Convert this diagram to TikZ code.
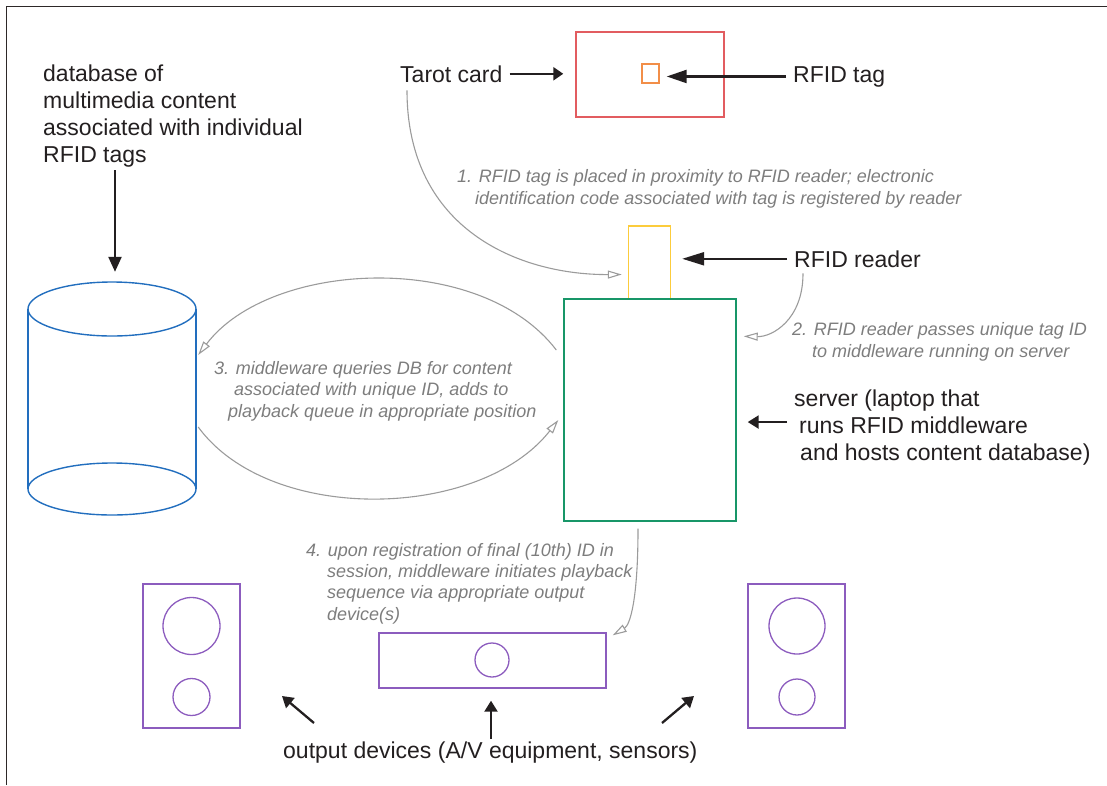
\documentclass[tikz,border=0pt]{standalone}
\usepackage{fontspec}
\setmainfont{Liberation Sans}
\usetikzlibrary{arrows.meta,calc}
\definecolor{ink}{RGB}{35,31,32}
\definecolor{framec}{RGB}{45,40,40}
\definecolor{cardred}{RGB}{226,92,96}
\definecolor{tagorange}{RGB}{242,142,72}
\definecolor{readeryellow}{RGB}{252,204,60}
\definecolor{servergreen}{RGB}{24,150,104}
\definecolor{dbblue}{RGB}{34,110,190}
\definecolor{devpurple}{RGB}{140,92,190}
\definecolor{linegrey}{RGB}{155,155,155}
\definecolor{notegrey}{RGB}{125,125,125}
\begin{document}
\begin{tikzpicture}[x=1pt,y=-1pt,
  lbl/.style={font=\fontsize{23}{27}\selectfont, text=ink, inner sep=0pt, anchor=base west, align=left},
  note/.style={font=\fontsize{18}{21.3}\selectfont\itshape, text=notegrey, inner sep=0pt, anchor=base west, align=left},
  shapebox/.style={draw=#1, line width=1.4pt, inner sep=0pt, rectangle},
  disc/.style={draw=devpurple, line width=1.3pt, circle, inner sep=0pt},
  bk/.style={draw=ink, line width=2.3pt, -{Triangle[length=#1,width=13pt]}},
  bk/.default=12pt,
  gr/.style={draw=linegrey, line width=1.1pt, -{Triangle[open,length=14pt,width=8pt]}}]
\useasboundingbox (0,0) rectangle (1107,785);
% frame
\draw[framec, line width=1.8pt] (6.5,785) -- (6.5,6.5) -- (1107,6.5);

% card, tag, reader, server
\node[shapebox=cardred, minimum width=148pt, minimum height=85pt] (card) at (650,74.5) {};
\node[shapebox=tagorange, minimum width=17pt, minimum height=19pt] (tag) at (650.5,73.5) {};
\node[shapebox=readeryellow, minimum width=42pt, minimum height=73pt] (reader) at (649.5,262.5) {};
\node[shapebox=servergreen, minimum width=172pt, minimum height=222pt] (server) at (650,410) {};

% database cylinder
\draw[dbblue, line width=1.4pt] (112,309) ellipse [x radius=84, y radius=27];
\draw[dbblue, line width=1.4pt] (28,309) -- (28,489) (196,309) -- (196,489);
\draw[dbblue, line width=1.4pt] (112,489) ellipse [x radius=84, y radius=26];
\node[inner sep=0pt, minimum width=168pt, minimum height=234pt] (db) at (112,399) {};

% output devices
\node[shapebox=devpurple, minimum width=97pt, minimum height=144pt] (spkL) at (191.5,656) {};
\node[disc, minimum size=57pt] (spkLbig) at (191.5,626) {};
\node[disc, minimum size=37pt] (spkLsmall) at (191.5,697) {};
\node[shapebox=devpurple, minimum width=227pt, minimum height=55pt] (mid) at (492.5,660.5) {};
\node[disc, minimum size=34pt] (midc) at (492,660) {};
\node[shapebox=devpurple, minimum width=97pt, minimum height=144pt] (spkR) at (796.5,656) {};
\node[disc, minimum size=56pt] (spkRbig) at (797,626) {};
\node[disc, minimum size=36pt] (spkRsmall) at (797,697) {};

% labels (multi-line nodes: base = last line's baseline)
\node[lbl] (tarot) at (400,82) {Tarot card};
\node[lbl] (taglbl) at (793,82) {RFID tag};
\node[lbl] (rdrlbl) at (794,267) {RFID reader};
\node[lbl] (srvlbl) at (794,460) {server (laptop that\\\hspace*{5pt}runs RFID middleware\\\hspace*{6pt}and hosts content database)};
\node[lbl] (dblbl) at (43,162) {database of\\multimedia content\\associated with individual\\RFID tags};
\node[lbl] (outlbl) at (283,758) {output devices (A/V equipment, sensors)};

% notes
\node[note] (n1) at (457,204) {1. RFID tag is placed in proximity to RFID reader; electronic\\\hspace*{18pt}identification code associated with tag is registered by reader};
\node[note] (n2) at (792,357) {2. RFID reader passes unique tag ID\\\hspace*{20pt}to middleware running on server};
\node[note] (n3) at (214,417) {3. middleware queries DB for content\\\hspace*{20pt}associated with unique ID, adds to\\\hspace*{14pt}playback queue in appropriate position};
\node[note] (n4) at (306,620) {4. upon registration of final (10th) ID in\\\hspace*{21pt}session, middleware initiates playback\\\hspace*{21pt}sequence via appropriate output\\\hspace*{21pt}device(s)};

% black pointer arrows
\draw[bk=10pt, shorten <=7pt, shorten >=12pt] (tarot.east) -- (tarot.east -| card.west);
\draw[bk=20pt, shorten <=7pt, shorten >=7pt] (taglbl.west) -- (taglbl.west -| tag.east);
\draw[bk=22pt, shorten <=7pt, shorten >=11pt] (rdrlbl.west) -- (rdrlbl.west -| reader.east);
\draw[bk=11pt, shorten <=7pt, shorten >=11pt] ([yshift=5pt]srvlbl.west) -- ([yshift=5pt]srvlbl.west -| server.east);
\coordinate (dbarrow) at (115,170);
\draw[bk=15pt, shorten >=10pt] (dbarrow) -- (dbarrow |- db.north);
\coordinate (laTail) at (314,723);
\coordinate (laTip) at (282,696);
\coordinate (raTail) at (662,723);
\coordinate (raTip) at (694,696);
\draw[bk=11pt] (laTail) -- (laTip);
\draw[bk=11pt] (raTail) -- (raTip);
\draw[bk=11pt, shorten >=12pt] ($(mid.south)+(-1.5,50)$) -- ($(mid.south)+(-1.5,0)$);

% grey process connectors
\draw[gr] ($(tarot.south west)+(7,8)$) .. controls (407,230) and (520,275) .. ($(reader.west)+(-6,12)$);
\draw[gr] ($(rdrlbl.south west)+(9,6)$) .. controls (803,320) and (772,337) .. ($(server.north east)+(7,38)$);
\draw[gr] ($(server.west)+(-7,-60)$) .. controls (480,250) and (270,260) .. ($(db.east)+(2,-44)$);
\draw[gr] ($(db.east)+(2,28)$) .. controls (270,525) and (480,520) .. ($(server.west)+(-5,10)$);
\draw[gr] ($(server.south)+(-12,7)$) .. controls (638,600) and (630,625) .. ($(mid.north east)+(6,3)$);
\end{tikzpicture}
\end{document}
